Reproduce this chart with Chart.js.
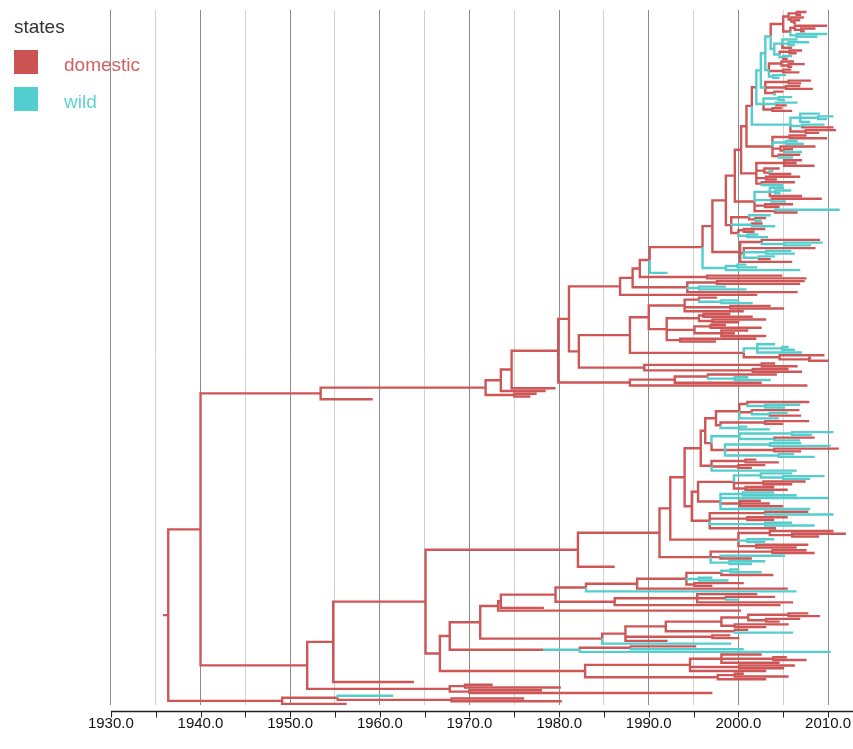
<!DOCTYPE html>
<html><head><meta charset="utf-8">
<script src="https://cdn.jsdelivr.net/npm/chart.js@4.4.0/dist/chart.umd.min.js"></script>
<style>html,body{margin:0;padding:0;background:#fff;}canvas{display:block;}</style>
</head><body>
<canvas id="c" width="853" height="749"></canvas>
<script>
// ---------- data ----------
const seriesNames = ['domestic', 'wild'];
const seriesKeys = ['d', 'w'];
const legendTitle = 'states';
const majorTicks = [1930, 1940, 1950, 1960, 1970, 1980, 1990, 2000, 2010];
const minorTicks = [1935, 1945, 1955, 1965, 1975, 1985, 1995, 2005];
const rootStart = 1935.8;

// clades: tip = state+year, node = (children)state+year
const TopA = "(((d2007.6,d2007.0)d2006.5,(d2007.3,(d2006.9,d2006.4)d2006.2)d2005.9)d2005.6,((d2009.9,(d2008.6,d2007.4)d2007.0)d2006.3,(w2009.9,w2008.8)w2006.5)d2005.8)d2005.0";
const TopB = "((w2006.6,(w2007.9,w2006.3)w2005.6,d2006.0)w2004.9,((d2007.1,d2006.5)d2005.7,(w2006.0,d2005.5)w2005.0)w2004.6)w2004.0";
const TopC = "((d2006.2,(d2007.4,d2006.0)d2005.6)d2004.8,(d2005.9,d2006.8)d2005.0,(w2005.3,w2004.6)w2003.9)w2003.4";
const TopD = "((d2008.1,d2007.0)d2005.6,(d2006.9,d2008.3)d2005.3,(d2005.0,w2004.2)d2004.0)w2003.0";
const TopE = "((w2006.0,w2005.2)w2004.5,(w2006.6,d2005.4)w2004.2,(d2004.9,d2006.0)d2003.8)w2002.8";
const MidA = "((w2009.1,(w2010.6,w2009.9)w2008.9,w2008.0)w2006.9,(w2009.6,d2010.6)w2007.1,(d2010.9,d2009.0)d2007.5)w2005.8";
const MidB = "((d2007.6,d2009.9)d2005.7,(w2006.6,w2007.3)w2005.3,(d2008.6,(d2006.1,w2007.1)d2005.1)d2004.7,(d2006.9,w2006.1)d2004.5)d2003.8";
const MidC = "((d2007.1,d2006.5,d2008.5)d2005.1,(d2004.6,(w2003.9,d2005.9)d2003.5)d2002.9,(d2006.9,d2004.3)d2003.1,(d2006.3,w2005.0)d2002.6)d2002.0";
const MidD = "((w2005.1,(w2005.9,w2004.7)w2004.1,d2007.1)w2003.5,(d2009.3,w2005.3)w2003.7,(d2006.1,d2004.6)d2003.0,(w2011.3,d2006.6)d2004.1)d2001.8";
const MidE = "((w2003.6,(d2003.1,w2002.6)d2001.9)d2001.2,(d2002.7,w2004.1)w2001.5,((d2003.0,d2001.8)d2000.6,(w2002.2,w2003.3)w2001.0)d2000.0)d1999.2";
const Tlow = "((d2009.1,(w2009.4,w2008.1)w2005.1)d2002.6,(d2008.6,(w2005.9,w2006.3)w2003.1,(w2004.1,d2003.6)w2002.3)d2000.6,d2006.0)d2000.2";
const C705 = "((w2000.9,w2002.1)w1999.9,w2006.9)w1998.6";
const D690 = "((d2007.4,d2006.9)d1997.6,(w1998.6,w2000.9)w1995.6,d2006.6)d1994.3";
const S1 = "((d1997.6,(w2000.1,w2001.6)w1998.1)d1995.6,(d2003.6,d2005.1)d1999.1,d2000.6)d1994.0";
const S2 = "(((d1999.1,d2001.6)d1996.1,(d2003.1,d2000.1)d1997.1)d1995.6,((d1998.6,d2002.6)d1996.9,(d2001.1,d1999.6,d2003.1)d1998.1)d1995.1,(d2002.0,d1997.5)d1993.5)d1992.0";
const S3 = "((w2004.1,(w2005.6,w2006.3)w2004.9,w2007.1)w2002.1,(d2009.6,(d2008.1,d2010.1)d2007.9)d2004.6)d2000.6";
const S4 = "((d2004.1,d2006.6)d2002.6,(d2005.6,d2007.1)d2001.6)d1989.5";
const CA = "(((d2004.3,(w2001.1,w2003.6)w1999.6)d1996.6,d2002.6)d1992.9,d2007.7)d1987.9";
const TopTree = "((((((((({TopA},{TopB})w2003.6,{TopC})w2003.0,{TopD})w2002.5,{TopE})d2002.0,{MidA})d2001.5,{MidB})d2000.9,{MidC})d2000.3,{MidD})d1999.6,{MidE})d1998.6";
const Upper = "((((({TopTree},{Tlow})d1997.1,{C705})d1996.0,w1992.1)d1990.1,(d2004.9,d2007.6)d1996.5)d1989.0,{D690})d1988.2";
const CladeU = "(((((({Upper},d2002.1)d1986.8,((({S1},{S2})d1990.0,{S3})d1987.9,{S4})d1982.2)d1981.1,{CA})d1979.9,d1979.6)d1974.7,d1978.5)d1973.5,(d1977.5,d1976.8)d1975.0)d1971.8";

const G1a = "((d2007.9,(w2006.9,w2005.2)w2003.0)d2001.0,(d2006.8,(w2005.5,d2007.0)w2003.5)d2001.5,w2004.5)d2000.1";
const G1b = "((d2007.9,d2005.0)d2003.0,(w2001.0,w2003.5)w2000.2)d1998.0";
const G1c = "((w2010.6,w2008.2)w2006.0,(d2008.5,w2006.9)w2004.0)w2000.1";
const G1d = "((w2007.0,w2010.3)w2003.5,(d2011.2,d2007.0)d2004.0,(w2006.2,w2008.5)w2004.5)d1998.5";
const G1e = "((d2002.0,d2004.5)d2000.8,(d2003.0,d2001.5)d2000.0,w2006.5)d1997.0";
const G2a = "((w2006.0,(w2009.6,w2008.0)w2005.0)w2002.5,(d2007.5,d2006.0)d2002.8,(d2004.0,d2005.5)d2000.8)d1999.5";
const G2b = "((w2004.0,w2006.5)w2000.5,w2010.0,(d2002.5,d2003.5,d2005.0)d2000.2,w2008.0)d1998.0";
const G2c = "((d2007.8,w2010.6)d2003.0,(d2005.5,d2004.0)d2001.0,(w2006.0,w2008.5)w2003.0,d2004.2)d1996.8";
const G3 = "((d2010.6,(d2012.0,d2009.0)d2006.0)d2003.5,(w2004.0,w2003.0)w2001.0,(d2007.8,d2006.5)d2002.0)d2000.0";
const G4 = "((d2007.6,d2008.5)d2003.8,(w2005.2,d2001.5)d1998.0,(w2003.0,w2001.5)w1999.0)d1996.9";
const Lbig = "((((((({G1a},{G1b})d1997.5,({G1c},{G1d})d1997.0)d1996.3,{G1e})d1995.8,(({G2a},{G2b})d1995.5,{G2c})d1994.8)d1994.0,{G3})d1992.4,{G4})d1991.2,d1986.2)d1982.1";
const N687 = "(((w2000.1,w2002.6)w1999.1,d2003.9)d1998.1,(w1997.1,w1998.9)w1995.6,(d2000.6,d1997.1)d1995.1)d1994.2";
const N617 = "((d2002.1,(d2004.1,w2000.1)d1998.6,d2006.1)d1995.4,d2004.7)d1986.2";
const N667 = "((((d2007.8,d2009.1)d2005.6,(d2006.9,d2004.6)d2003.1)d2001.1,(d2005.6,d2003.1)d1999.6)d1998.1,(d2001.1,w2006.1)d1999.6)d1991.9";
const N692 = "((d2002.6,(d2005.4,d2007.6)d2003.9,d2004.6)d1998.1,(d2006.3,d2005.1)d2000.1,d2003.1)d1994.6";
const N720 = "((d2000.6,d2005.6)d1999.6,d2003.1)d1997.7";
const CladeM = "(((((({N687},d2005.5)d1988.7,w2006.5)d1983.0,{N617})d1979.6,d1978.3)d1973.5,d2000.3)d1973.2,(({N667},(d1999.1,d2000.1)d1997.1,d1992.1)d1987.4,w1999.2)d1984.8)d1971.2";
const CladeL = "(({Lbig},(({CladeM},(((d1995.3,w2000.6)d1988.0,w2010.3)w1982.3)d1978.2)d1967.8,({N692},{N720})d1982.9)d1966.7)d1965.1,d1963.8)d1954.8";
const NB1 = "((d1972.6,d1980.2)d1969.5,(d1978.1,d1997.1)d1970.0)d1967.8";
const N283 = "((w1961.5,(d1976.1,d1980.3)d1968.0)d1955.3,d1956.3)d1949.1";
const RootTree = "((({CladeU},d1959.2)d1953.4,({CladeL},{NB1})d1951.9)d1940.0,{N283})d1936.4";

const cladeMap = {TopA, TopB, TopC, TopD, TopE, MidA, MidB, MidC, MidD, MidE, Tlow, C705, D690,
  S1, S2, S3, S4, CA, Upper, TopTree, CladeU, G1a, G1b, G1c, G1d, G1e, G2a, G2b, G2c, G3, G4,
  Lbig, N687, N617, N667, N692, N720, CladeM, CladeL, NB1, N283};

// ---------- build tree ----------
function expand(s) { return s.replace(/\{(\w+)\}/g, (m, k) => expand(cladeMap[k])); }
function parseTree(str) {
  let i = 0;
  function node() {
    const n = {children: []};
    if (str[i] === '(') {
      i++;
      n.children.push(node());
      while (str[i] === ',') { i++; n.children.push(node()); }
      i++;
    }
    n.state = str[i]; i++;
    if (n.state !== 'd' && n.state !== 'w') throw new Error('bad state at ' + i + ': ' + str.slice(i - 20, i + 5));
    const j = i;
    while (i < str.length && /[0-9.]/.test(str[i])) i++;
    n.t = parseFloat(str.slice(j, i));
    return n;
  }
  return node();
}
const root = parseTree(expand(RootTree));
let tipCount = 0;
(function layout(n) {
  if (!n.children.length) { n.y = tipCount++; return; }
  n.children.forEach(layout);
  n.y = (n.children[0].y + n.children[n.children.length - 1].y) / 2;
})(root);

const segs = {d: [], w: []};
segs[root.state].push({x: rootStart, y: root.y}, {x: root.t, y: root.y}, {x: root.t, y: null});
(function collect(n) {
  n.children.forEach(c => {
    segs[c.state].push({x: n.t, y: n.y}, {x: n.t, y: c.y}, {x: c.t, y: c.y}, {x: c.t, y: null});
    collect(c);
  });
})(root);

// ---------- layout / style ----------
const PX_PER_YEAR = 8.975, X1930 = 111, W = 853;
const xMin = 1930 - X1930 / PX_PER_YEAR;
const xMax = 1930 + (W - X1930) / PX_PER_YEAR;
const areaTop = 10, areaBottom = 705, tipTop = 12, tipBottom = 704;
const yRange = (tipCount - 1) * (areaBottom - areaTop) / (tipBottom - tipTop);
const yMin = -(tipTop - areaTop) * yRange / (areaBottom - areaTop);
const yMax = yMin + yRange;
const lineColors = {d: '#ce5656', w: '#55cdcd'};
const boxColors = ['#cd5252', '#52cece'];
const textColors = ['#d45f5f', '#5ed2d2'];
const FONT = '"Liberation Sans", Arial, Helvetica, sans-serif';
const allTicks = majorTicks.concat(minorTicks).sort((a, b) => a - b);

const axisPlugin = {
  id: 'axisLine',
  afterDraw(chart) {
    const {ctx, chartArea} = chart, x = chart.scales.x;
    const y0 = chartArea.bottom + 6.5;
    ctx.save();
    ctx.strokeStyle = '#222';
    ctx.lineWidth = 1.5;
    ctx.beginPath();
    ctx.moveTo(x.getPixelForValue(majorTicks[0]), y0);
    ctx.lineTo(chart.width, y0);
    ctx.stroke();
    ctx.lineWidth = 1;
    allTicks.forEach(v => {
      const px = Math.round(x.getPixelForValue(v)) + 0.5;
      ctx.beginPath(); ctx.moveTo(px, y0); ctx.lineTo(px, y0 + 6); ctx.stroke();
    });
    ctx.restore();
  }
};
const legendPlugin = {
  id: 'stateLegend',
  afterDraw(chart) {
    const ctx = chart.ctx;
    ctx.save();
    ctx.font = '19px ' + FONT;
    ctx.textBaseline = 'alphabetic';
    ctx.fillStyle = '#333';
    ctx.fillText(legendTitle, 14, 33);
    seriesNames.forEach((name, i) => {
      const top = 50 + i * 37;
      ctx.fillStyle = boxColors[i];
      ctx.fillRect(14, top, 24, 24);
      ctx.fillStyle = textColors[i];
      ctx.fillText(name, 64, top + 21);
    });
    ctx.restore();
  }
};

const datasets = seriesKeys.map((k, i) => ({
  label: seriesNames[i], data: segs[k], showLine: true, spanGaps: false,
  borderColor: lineColors[k], borderWidth: 2.4, pointRadius: 0, pointHoverRadius: 0,
  borderJoinStyle: 'miter', borderCapStyle: 'butt', tension: 0
})).reverse();

new Chart(document.getElementById('c'), {
  type: 'scatter',
  data: {datasets},
  options: {
    responsive: false, animation: false, events: [],
    layout: {padding: {top: areaTop, bottom: 14, left: 0, right: 0}},
    plugins: {legend: {display: false}, tooltip: {enabled: false}},
    scales: {
      x: {
        type: 'linear', min: xMin, max: xMax,
        afterBuildTicks: s => { s.ticks = allTicks.map(v => ({value: v})); },
        grid: {
          color: c => (c.tick && c.tick.value % 10 === 0) ? '#8c8c8c' : '#d2d2d2',
          lineWidth: 1, drawTicks: true, tickLength: 8, tickColor: 'rgba(0,0,0,0)'
        },
        border: {display: false},
        ticks: {
          padding: 2, autoSkip: false, maxRotation: 0, color: '#111',
          font: {size: 15, family: FONT},
          callback: v => majorTicks.includes(v) ? v.toFixed(1) : ''
        }
      },
      y: {type: 'linear', display: false, reverse: true, min: yMin, max: yMax}
    }
  },
  plugins: [axisPlugin, legendPlugin]
});
</script>
</body></html>
